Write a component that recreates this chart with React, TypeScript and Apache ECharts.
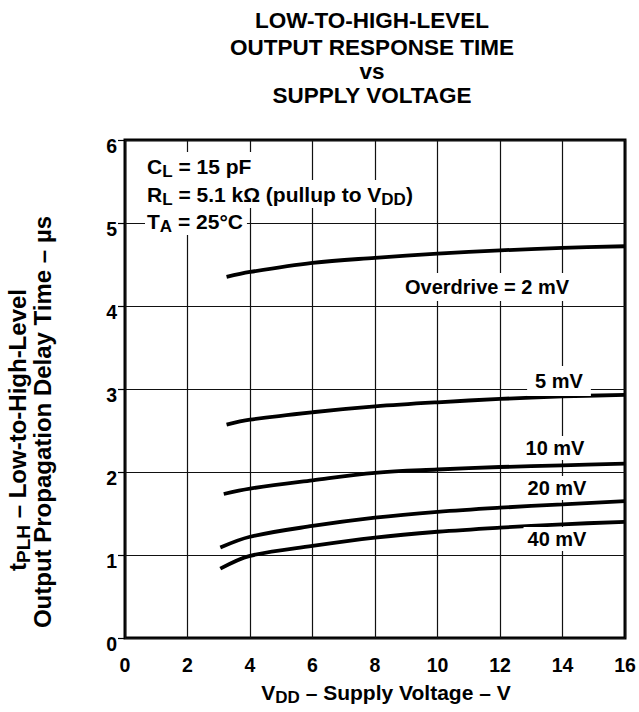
import React, { useEffect, useRef } from 'react';
import * as echarts from 'echarts';

// Supply voltage (V) sample points for each curve
const vdd2mV = [3.25, 4, 6, 8, 10, 12, 14, 16];
const vdd5mV = [3.25, 4, 6, 8, 10, 12, 14, 16];
const vdd10mV = [3.16, 4, 6, 8, 10, 12, 14, 16];
const vdd20mV = [3.05, 4, 6, 8, 10, 12, 14, 16];
const vdd40mV = [3.05, 4, 6, 8, 10, 12, 14, 16];

// Propagation delay time (µs)
const tplh2mV = [4.35, 4.41, 4.52, 4.58, 4.63, 4.67, 4.70, 4.72];
const tplh5mV = [2.57, 2.63, 2.72, 2.79, 2.84, 2.88, 2.91, 2.93];
const tplh10mV = [1.735, 1.80, 1.90, 1.99, 2.03, 2.06, 2.08, 2.10];
const tplh20mV = [1.09, 1.22, 1.35, 1.45, 1.52, 1.57, 1.61, 1.65];
const tplh40mV = [0.835, 0.99, 1.11, 1.21, 1.28, 1.33, 1.37, 1.40];

const curveLabels = ['Overdrive = 2 mV', '5 mV', '10 mV', '20 mV', '40 mV'];
const titleLines = ['LOW-TO-HIGH-LEVEL', 'OUTPUT RESPONSE TIME', 'vs', 'SUPPLY VOLTAGE'];

const FONT = '"Liberation Sans", Arial, Helvetica, sans-serif';

const zip = (xs: number[], ys: number[]) => xs.map((x, i) => [x, ys[i]]);

export default function App() {
  const ref = useRef<HTMLDivElement>(null);
  useEffect(() => {
    if (!ref.current) return;
    const chart = echarts.init(ref.current, undefined, { renderer: 'svg' });

    const mkSeries = (name: string, xs: number[], ys: number[]) => ({
      name,
      type: 'line',
      data: zip(xs, ys),
      smooth: 0.35,
      showSymbol: false,
      symbol: 'none',
      lineStyle: { color: '#000', width: 3.8 },
      z: 5,
    });

    const mkRich = (size: number, sub: number, lh: number, subLh: number) => ({
      n: { fontSize: size, fontWeight: 'bold', fontFamily: FONT, lineHeight: lh, fill: '#000' },
      s: { fontSize: sub, fontWeight: 'bold', fontFamily: FONT, lineHeight: subLh, verticalAlign: 'bottom', fill: '#000' },
    });
    const rich = mkRich(21, 17, 28, 12);
    const richX = mkRich(21, 17, 28, 12);
    const richY = mkRich(24, 19, 32, 14);

    const txt = (x: number, y: number, text: string, extra: any = {}) => ({
      type: 'text',
      x,
      y,
      z: 20,
      style: {
        text,
        fill: '#000',
        fontSize: 20,
        fontWeight: 'bold',
        fontFamily: FONT,
        align: 'center',
        verticalAlign: 'middle',
        ...extra,
      },
    });

    const titleYs = [20.5, 47.5, 71, 95];

    const graphics: any[] = [
      ...titleLines.map((t, i) => txt(372, titleYs[i], t, { fontSize: 22.5 })),
      // condition annotation
      txt(145, 166, '{n|C}{s|L}{n| = 15 pF}', { rich, align: 'left', backgroundColor: '#fff', padding: [0, 4, 0, 2] }),
      txt(145, 194, '{n|R}{s|L}{n| = 5.1 kΩ (pullup to V}{s|DD}{n|)}', { rich, align: 'left', backgroundColor: '#fff', padding: [0, 4, 0, 2] }),
      txt(145, 221, '{n|T}{s|A}{n| = 25°C}', { rich, align: 'left', backgroundColor: '#fff', padding: [0, 4, 0, 2] }),
      // curve labels
      txt(487, 287, curveLabels[0], { backgroundColor: '#fff', padding: [4, 6] }),
      txt(559, 381, curveLabels[1], { backgroundColor: '#fff', padding: [4, 8, 6, 8] }),
      txt(555, 448, curveLabels[2], { backgroundColor: '#fff', padding: [2, 4] }),
      txt(557, 488, curveLabels[3], { backgroundColor: '#fff', padding: [2, 4] }),
      txt(557, 539, curveLabels[4], { backgroundColor: '#fff', padding: [2, 4] }),
      // x axis name
      txt(386, 692, '{n|V}{s|DD}{n| – Supply Voltage – V}', { rich: richX }),
      // y axis name (two rotated lines)
      {
        type: 'text',
        x: 17,
        y: 430,
        rotation: Math.PI / 2,
        z: 20,
        style: {
          text: '{n|t}{s|PLH}{n| – Low-to-High-Level}',
          rich: richY,
          align: 'center',
          verticalAlign: 'middle',
        },
      },
      {
        type: 'text',
        x: 42,
        y: 422,
        rotation: Math.PI / 2,
        z: 20,
        style: {
          text: 'Output Propagation Delay Time – µs',
          fill: '#000',
          fontSize: 24,
          fontWeight: 'bold',
          fontFamily: FONT,
          align: 'center',
          verticalAlign: 'middle',
        },
      },
    ];

    chart.setOption({
      animation: false,
      backgroundColor: '#fff',
      grid: {
        left: 125,
        right: 14,
        top: 140,
        bottom: 74,
        show: true,
        borderColor: '#000',
        borderWidth: 3,
        containLabel: false,
      },
      xAxis: {
        type: 'value',
        min: 0,
        max: 16,
        interval: 2,
        axisLine: { show: false },
        axisTick: { show: false },
        axisLabel: {
          color: '#000',
          fontSize: 19.5,
          fontWeight: 'bold',
          fontFamily: FONT,
          margin: 17,
        },
        splitLine: { show: true, lineStyle: { color: '#111', width: 1.2 } },
      },
      yAxis: {
        type: 'value',
        min: 0,
        max: 6,
        interval: 1,
        axisLine: { show: false },
        axisTick: { show: true, inside: false, length: 7, lineStyle: { color: '#000', width: 1.2 } },
        axisLabel: {
          color: '#000',
          fontSize: 19.5,
          fontWeight: 'bold',
          fontFamily: FONT,
          margin: 8,
          verticalAlign: 'top',
          lineHeight: 12,
        },
        splitLine: { show: true, lineStyle: { color: '#111', width: 1.2 } },
      },
      series: [
        mkSeries('2 mV', vdd2mV, tplh2mV),
        mkSeries('5 mV', vdd5mV, tplh5mV),
        mkSeries('10 mV', vdd10mV, tplh10mV),
        mkSeries('20 mV', vdd20mV, tplh20mV),
        mkSeries('40 mV', vdd40mV, tplh40mV),
      ],
      graphic: graphics,
    });

    return () => chart.dispose();
  }, []);

  return (
    <div
      ref={ref}
      style={{ position: 'fixed', left: 0, top: 0, width: 639, height: 712, background: '#fff' }}
    />
  );
}
